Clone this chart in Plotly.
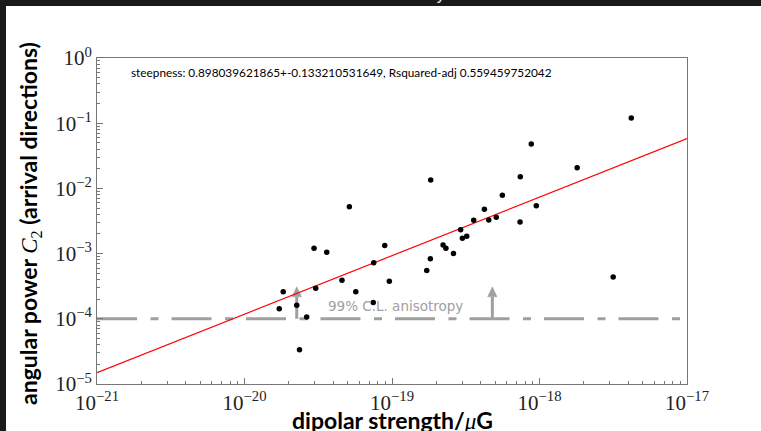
import math
import plotly.graph_objects as go

# ---- data ----
dipolar_strength = [1.72e-20, 1.83e-20, 2.26e-20, 2.64e-20, 2.36e-20, 3.04e-20, 4.58e-20, 5.68e-20,
                    7.46e-20, 7.52e-20, 9.59e-20, 2.96e-20, 3.61e-20, 5.14e-20, 8.93e-20, 1.83e-19,
                    1.72e-19, 1.82e-19, 2.22e-19, 2.32e-19, 2.61e-19, 2.92e-19, 3.00e-19, 3.21e-19,
                    3.58e-19, 4.23e-19, 4.53e-19, 5.09e-19, 5.60e-19, 7.41e-19, 7.38e-19, 8.79e-19,
                    9.51e-19, 1.80e-18, 4.19e-18, 3.16e-18]
angular_power = [1.42e-4, 2.59e-4, 1.62e-4, 1.07e-4, 3.35e-5, 2.95e-4, 3.89e-4, 2.59e-4,
                 1.78e-4, 7.21e-4, 3.78e-4, 1.21e-3, 1.05e-3, 5.25e-3, 1.33e-3, 1.35e-2,
                 5.50e-4, 8.37e-4, 1.35e-3, 1.21e-3, 1.00e-3, 2.33e-3, 1.72e-3, 1.85e-3,
                 3.24e-3, 4.79e-3, 3.28e-3, 3.61e-3, 7.83e-3, 1.51e-2, 3.05e-3, 4.79e-2,
                 5.43e-3, 2.07e-2, 1.20e-1, 4.36e-4]

fit_steepness = 0.898039621865
fit_intercept_log10 = 14.031
fit_x = [1e-21, 1e-17]

threshold_level = 1e-4
threshold_x = [1e-21, 1e-17]
threshold_label = "99% C.L. anisotropy"
arrow_x = [2.26e-20, 4.79e-19]
arrow_head_base = 2.17e-4
arrow_tip = 3.09e-4

x_decades = [-21, -20, -19, -18, -17]
y_decades = [-5, -4, -3, -2, -1, 0]
x_tickvals = [10.0 ** d for d in x_decades]
x_ticktext = ["10<sup>\u221221</sup>", "10<sup>\u221220</sup>", "10<sup>\u221219</sup>",
              "10<sup>\u221218</sup>", "10<sup>\u221217</sup>"]
y_tickvals = [10.0 ** d for d in y_decades]
y_ticktext = ["10<sup>\u22125</sup>", "10<sup>\u22124</sup>", "10<sup>\u22123</sup>",
              "10<sup>\u22122</sup>", "10<sup>\u22121</sup>", "10<sup>0</sup>"]
x_minor = [m * 10.0 ** d for d in x_decades[:-1] for m in range(2, 10)]
y_minor = [m * 10.0 ** d for d in y_decades[:-1] for m in range(2, 10)]

fit_text = "steepness: 0.898039621865+-0.133210531649, Rsquared-adj 0.559459752042"
page_title_fragment = "y"

# ---- figure (placed at page offset 6,6 inside a dark frame) ----
OFF = 6
W, H = 761 - OFF, 431 - OFF
ML, MR, MT, MB = 97 - OFF, 74, 58 - OFF, 47
pw, ph = W - ML - MR, H - MT - MB

GRAY = "#a0a0a0"
fig = go.Figure()

# threshold line
fig.add_trace(go.Scatter(x=threshold_x, y=[threshold_level] * len(threshold_x), mode="lines",
                         line=dict(color=GRAY, width=3, dash="40px,13.5px,8px,13px"),
                         hoverinfo="skip", showlegend=False))

# arrows
head_half = 10 ** (4.7 / (pw / 4))
for ax_ in arrow_x:
    fig.add_trace(go.Scatter(x=[ax_, ax_], y=[threshold_level, arrow_head_base], mode="lines",
                             line=dict(color=GRAY, width=3), hoverinfo="skip", showlegend=False))
    fig.add_trace(go.Scatter(x=[ax_ / head_half, ax_ * head_half, ax_, ax_ / head_half],
                             y=[arrow_head_base, arrow_head_base, arrow_tip, arrow_head_base],
                             mode="lines", fill="toself", fillcolor=GRAY,
                             line=dict(color=GRAY, width=0.5), hoverinfo="skip", showlegend=False))

# fit line
fit_y = [10 ** (fit_steepness * math.log10(v) + fit_intercept_log10) for v in fit_x]
fig.add_trace(go.Scatter(x=fit_x, y=fit_y, mode="lines", line=dict(color="red", width=1.2),
                         hoverinfo="skip", showlegend=False))

# data points
fig.add_trace(go.Scatter(x=dipolar_strength, y=angular_power, mode="markers",
                         marker=dict(color="black", size=5.5), showlegend=False))

axis_common = dict(type="log", showgrid=False, zeroline=False, showline=True, linecolor="#777",
                   linewidth=1, mirror=True, ticks="inside", ticklen=6, tickcolor="#777",
                   tickfont=dict(family="Liberation Serif", size=21, color="#222"))

fig.update_xaxes(range=[-21, -17], tickvals=x_tickvals, ticktext=x_ticktext,
                 minor=dict(ticks="inside", ticklen=3, tickcolor="#777", tickvals=x_minor),
                 **axis_common)
fig.update_yaxes(range=[-5, 0], tickvals=y_tickvals, ticktext=y_ticktext,
                 minor=dict(ticks="inside", ticklen=3, tickcolor="#777", tickvals=y_minor),
                 **axis_common)

annotations = [
    dict(text=fit_text, xref="paper", yref="paper", x=(129 - 97) / pw, y=(H - MB - (73 - OFF)) / ph,
         xanchor="left", yanchor="middle", showarrow=False,
         font=dict(family="Lato", size=11.8, color="black")),
    dict(text=threshold_label, xref="paper", yref="paper", x=(326 - 97) / pw, y=(H - MB - (306 - OFF)) / ph,
         xanchor="left", yanchor="middle", showarrow=False,
         font=dict(family="DejaVu Sans", size=13.5, color=GRAY)),
    dict(text="<b>dipolar strength/</b><span style='font-family:Liberation Serif'><i>\u03bc</i></span><b>G</b>",
         xref="paper", yref="paper", x=0.5, y=(H - MB - (420 - OFF)) / ph, xanchor="center", yanchor="middle",
         showarrow=False, font=dict(family="Lato", size=23, color="black")),
    dict(text="<b>angular power </b><span style='font-family:Liberation Serif'><i>C</i><sub>2</sub></span><b> (arrival directions)</b>",
         xref="paper", yref="paper", x=(30 - 97) / pw, y=(H - MB - (224 - OFF)) / ph,
         xanchor="center", yanchor="middle",
         textangle=-90, showarrow=False, font=dict(family="Lato", size=23, color="black")),
]

fig.update_layout(width=W, height=H, margin=dict(l=ML, r=MR, t=MT, b=MB),
                  plot_bgcolor="white", paper_bgcolor="white",
                  annotations=annotations, showlegend=False)

post = ("document.body.style.margin='0px';"
        "document.body.style.padding='%dpx 0 0 %dpx';"
        "document.body.style.background='#1a1a1a';"
        "document.body.style.overflow='hidden';"
        "document.documentElement.style.background='#1a1a1a';"
        "var d=document.createElement('div');"
        "d.style.cssText='position:absolute;left:436px;top:0px;width:20px;height:%dpx;overflow:hidden;';"
        "var s=document.createElement('span');"
        "s.textContent=%r;"
        "s.style.cssText='position:absolute;left:0px;top:-15px;font:16px \"DejaVu Sans\";color:#e8e8e8;line-height:19px;';"
        "d.appendChild(s);document.body.appendChild(d);") % (OFF, OFF, OFF, page_title_fragment)

fig.write_html("out.html", config={"displayModeBar": False}, post_script=post)
